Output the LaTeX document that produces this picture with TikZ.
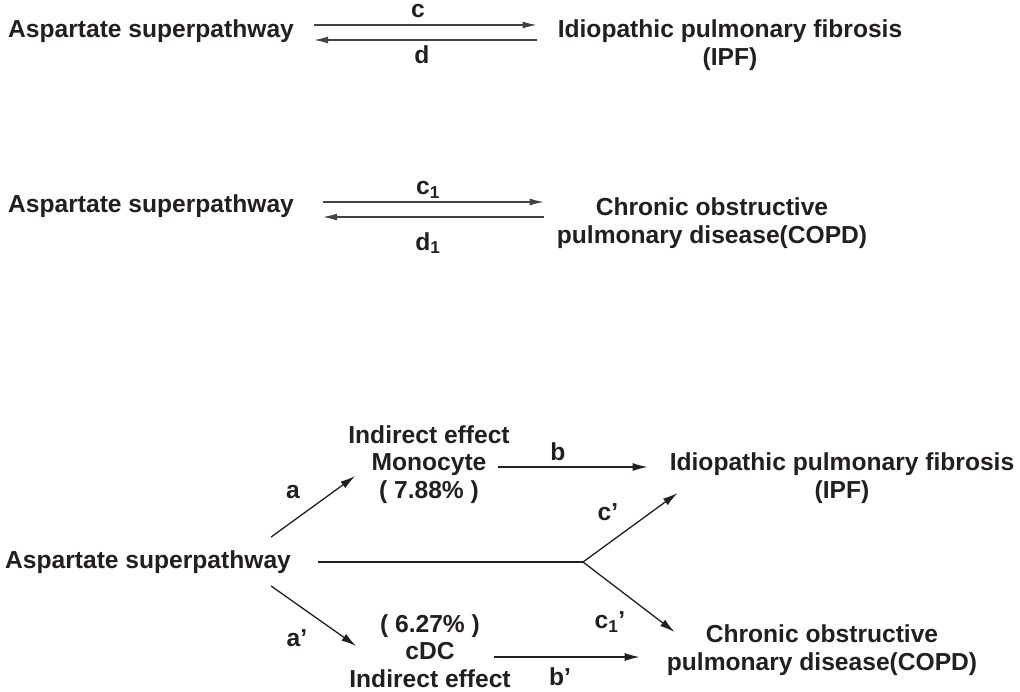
\documentclass[tikz,border=0pt]{standalone}
\usepackage{fontspec}
\setmainfont{Liberation Sans}
\usetikzlibrary{arrows.meta}
\definecolor{ink}{RGB}{35,31,32}
\begin{document}
\begin{tikzpicture}[x=1pt,y=-1pt,
        lbl/.style={inner sep=0pt,text=ink,font=\bfseries\fontsize{24.6}{27.5}\selectfont},
        blk/.style={lbl,align=center,anchor=base},
        arr/.style={-{Latex[length=14pt,width=7pt]},line width=1.2pt,draw=ink!85},
        arrb/.style={-{Latex[length=15pt,width=8pt]},line width=1.3pt,draw=ink}]
            \useasboundingbox (0,0) rectangle (1020,691);
            \node[lbl,anchor=base west] (asp1) at (8,37) {Aspartate superpathway};
            \node[blk] (ipf1) at (730,65) {Idiopathic pulmonary fibrosis\\(IPF)};
            \draw[arr] ([shift={(20,-12)}]asp1.base east) -- ([shift={(-21,-40)}]ipf1.base west);
            \draw[arr] ([shift={(-21,-25)}]ipf1.base west) -- ([shift={(20,3)}]asp1.base east);
            \node[lbl] (c) at (418,11) {c};
            \node[lbl] (d) at (422,55) {d};
            \node[lbl,anchor=base west] (asp2) at (8,212) {Aspartate superpathway};
            \node[blk] (copd1) at (712,243) {Chronic obstructive\\pulmonary disease(COPD)};
            \draw[arr] ([shift={(29,-10)}]asp2.base east) -- ([shift={(-13,-41)}]copd1.base west);
            \draw[arr] ([shift={(-13,-26)}]copd1.base west) -- ([shift={(29,5)}]asp2.base east);
            \node[lbl] (c1) at (428,190) {c\textsubscript{1}};
            \node[lbl] (d1) at (428,243) {d\textsubscript{1}};
            \node[lbl,anchor=base west] (asp3) at (5,568) {Aspartate superpathway};
            \node[blk] (mono) at (429,498) {Indirect effect\\Monocyte\\( 7.88\% )};
            \node[blk] (cdc) at (430,687) {( 6.27\% )\\cDC\\Indirect effect};
            \node[blk] (ipf2) at (842,498) {Idiopathic pulmonary fibrosis\\(IPF)};
            \node[blk] (copd2) at (822,670) {Chronic obstructive\\pulmonary disease(COPD)};
            \coordinate (jn) at (583,562);
            \draw[arrb] ([shift={(-20,-31)}]asp3.base east) -- ([shift={(7,-22)}]mono.base west);
            \draw[arrb] ([shift={(-20,18)}]asp3.base east) -- ([shift={(7,-41)}]cdc.base west);
            \draw[arrb] ([shift={(-12,-31)}]mono.base east) -- ([shift={(-22,-31)}]ipf2.base west);
            \draw[arrb] ([shift={(-17,-30)}]cdc.base east) -- ([shift={(-27,-13)}]copd2.base west);
            \draw[line width=1.3pt,draw=ink] ([shift={(27,-6)}]asp3.base east) -- (jn);
            \draw[arrb] (jn) -- ([shift={(8,-5)}]ipf2.base west);
            \draw[arrb] (jn) -- ([shift={(8,-38)}]copd2.base west);
            \node[lbl] (a) at (293,492) {a};
            \node[lbl] (b) at (558,452) {b};
            \node[lbl] (cp) at (608,512) {c’};
            \node[lbl] (c1p) at (610,622) {c\textsubscript{1}’};
            \node[lbl] (ap) at (297,638) {a’};
            \node[lbl] (bp) at (560,677) {b’};
        \end{tikzpicture}
\end{document}
